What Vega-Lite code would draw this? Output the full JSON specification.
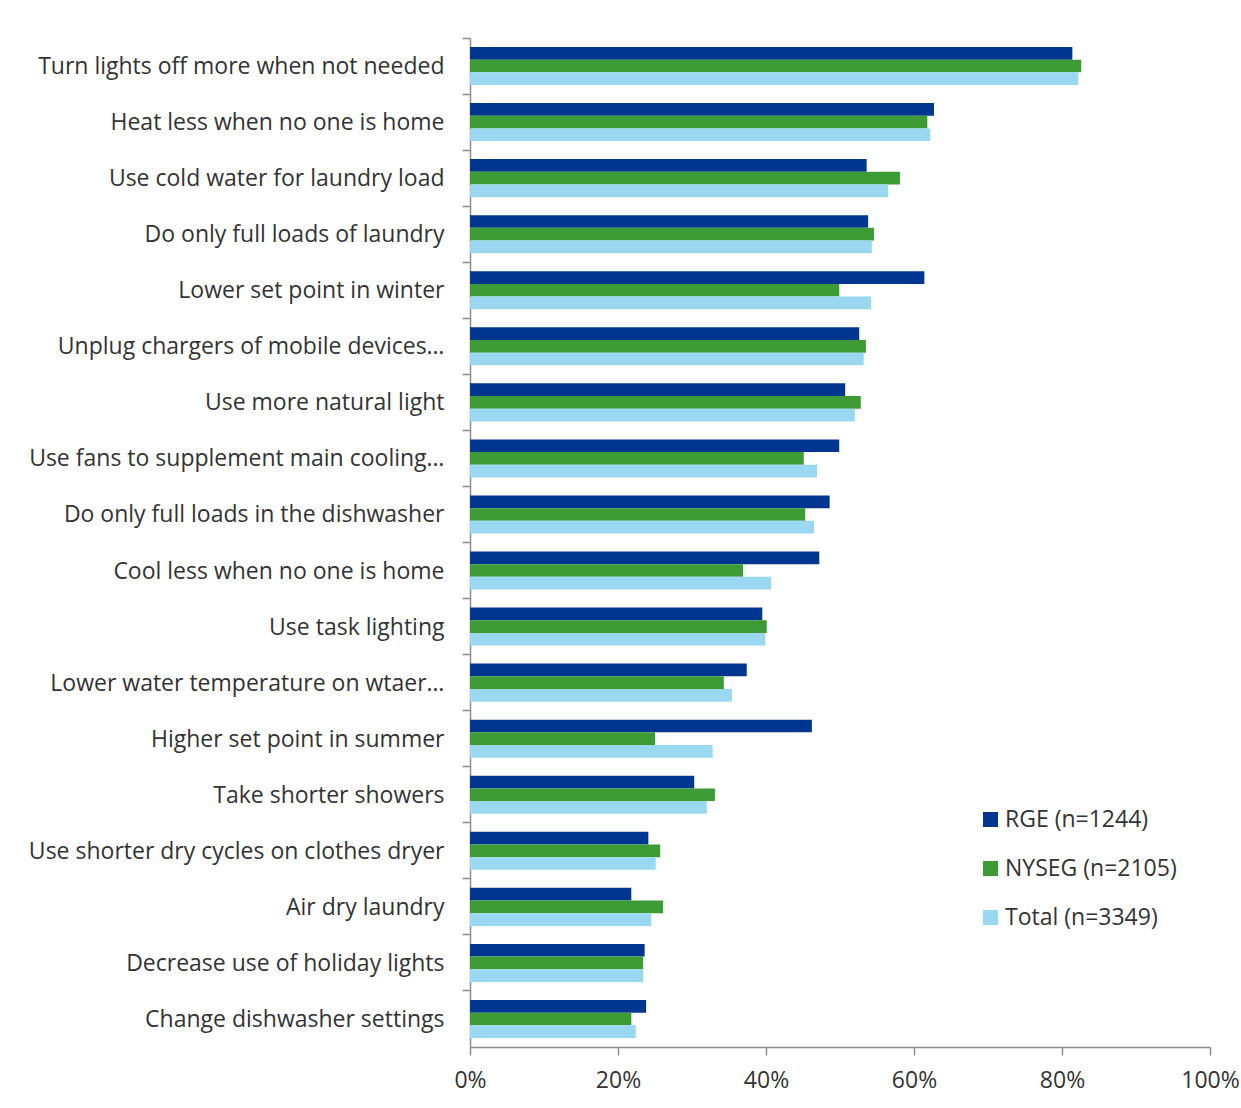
{
  "$schema": "https://vega.github.io/schema/vega-lite/v6.json",
  "autosize": "none",
  "width": 740,
  "height": 1009,
  "padding": {"left": 470, "top": 38, "right": 31, "bottom": 61},
  "background": "white",
  "config": {
    "view": {"stroke": null},
    "font": "Open Sans",
    "axis": {"domainColor": "#8c8c8c", "tickColor": "#8c8c8c", "labelColor": "#333333", "labelFont": "Open Sans", "labelFontSize": 23, "grid": false, "title": null}
  },
  "data": {
    "values": [
      {"action": "Turn lights off more when not needed", "series": "RGE (n=1244)", "value": 81.4},
      {"action": "Turn lights off more when not needed", "series": "NYSEG (n=2105)", "value": 82.6},
      {"action": "Turn lights off more when not needed", "series": "Total (n=3349)", "value": 82.2},
      {"action": "Heat less when no one is home", "series": "RGE (n=1244)", "value": 62.7},
      {"action": "Heat less when no one is home", "series": "NYSEG (n=2105)", "value": 61.8},
      {"action": "Heat less when no one is home", "series": "Total (n=3349)", "value": 62.2},
      {"action": "Use cold water for laundry load", "series": "RGE (n=1244)", "value": 53.6},
      {"action": "Use cold water for laundry load", "series": "NYSEG (n=2105)", "value": 58.1},
      {"action": "Use cold water for laundry load", "series": "Total (n=3349)", "value": 56.5},
      {"action": "Do only full loads of laundry", "series": "RGE (n=1244)", "value": 53.8},
      {"action": "Do only full loads of laundry", "series": "NYSEG (n=2105)", "value": 54.6},
      {"action": "Do only full loads of laundry", "series": "Total (n=3349)", "value": 54.3},
      {"action": "Lower set point in winter", "series": "RGE (n=1244)", "value": 61.4},
      {"action": "Lower set point in winter", "series": "NYSEG (n=2105)", "value": 49.9},
      {"action": "Lower set point in winter", "series": "Total (n=3349)", "value": 54.2},
      {"action": "Unplug chargers of mobile devices…", "series": "RGE (n=1244)", "value": 52.6},
      {"action": "Unplug chargers of mobile devices…", "series": "NYSEG (n=2105)", "value": 53.5},
      {"action": "Unplug chargers of mobile devices…", "series": "Total (n=3349)", "value": 53.2},
      {"action": "Use more natural light", "series": "RGE (n=1244)", "value": 50.7},
      {"action": "Use more natural light", "series": "NYSEG (n=2105)", "value": 52.8},
      {"action": "Use more natural light", "series": "Total (n=3349)", "value": 52.0},
      {"action": "Use fans to supplement main cooling…", "series": "RGE (n=1244)", "value": 49.9},
      {"action": "Use fans to supplement main cooling…", "series": "NYSEG (n=2105)", "value": 45.1},
      {"action": "Use fans to supplement main cooling…", "series": "Total (n=3349)", "value": 46.9},
      {"action": "Do only full loads in the dishwasher", "series": "RGE (n=1244)", "value": 48.6},
      {"action": "Do only full loads in the dishwasher", "series": "NYSEG (n=2105)", "value": 45.3},
      {"action": "Do only full loads in the dishwasher", "series": "Total (n=3349)", "value": 46.5},
      {"action": "Cool less when no one is home", "series": "RGE (n=1244)", "value": 47.2},
      {"action": "Cool less when no one is home", "series": "NYSEG (n=2105)", "value": 36.9},
      {"action": "Cool less when no one is home", "series": "Total (n=3349)", "value": 40.7},
      {"action": "Use task lighting", "series": "RGE (n=1244)", "value": 39.5},
      {"action": "Use task lighting", "series": "NYSEG (n=2105)", "value": 40.1},
      {"action": "Use task lighting", "series": "Total (n=3349)", "value": 39.9},
      {"action": "Lower water temperature on wtaer…", "series": "RGE (n=1244)", "value": 37.4},
      {"action": "Lower water temperature on wtaer…", "series": "NYSEG (n=2105)", "value": 34.3},
      {"action": "Lower water temperature on wtaer…", "series": "Total (n=3349)", "value": 35.4},
      {"action": "Higher set point in summer", "series": "RGE (n=1244)", "value": 46.2},
      {"action": "Higher set point in summer", "series": "NYSEG (n=2105)", "value": 25.0},
      {"action": "Higher set point in summer", "series": "Total (n=3349)", "value": 32.8},
      {"action": "Take shorter showers", "series": "RGE (n=1244)", "value": 30.3},
      {"action": "Take shorter showers", "series": "NYSEG (n=2105)", "value": 33.1},
      {"action": "Take shorter showers", "series": "Total (n=3349)", "value": 32.0},
      {"action": "Use shorter dry cycles on clothes dryer", "series": "RGE (n=1244)", "value": 24.1},
      {"action": "Use shorter dry cycles on clothes dryer", "series": "NYSEG (n=2105)", "value": 25.7},
      {"action": "Use shorter dry cycles on clothes dryer", "series": "Total (n=3349)", "value": 25.1},
      {"action": "Air dry laundry", "series": "RGE (n=1244)", "value": 21.8},
      {"action": "Air dry laundry", "series": "NYSEG (n=2105)", "value": 26.1},
      {"action": "Air dry laundry", "series": "Total (n=3349)", "value": 24.5},
      {"action": "Decrease use of holiday lights", "series": "RGE (n=1244)", "value": 23.6},
      {"action": "Decrease use of holiday lights", "series": "NYSEG (n=2105)", "value": 23.4},
      {"action": "Decrease use of holiday lights", "series": "Total (n=3349)", "value": 23.4},
      {"action": "Change dishwasher settings", "series": "RGE (n=1244)", "value": 23.8},
      {"action": "Change dishwasher settings", "series": "NYSEG (n=2105)", "value": 21.8},
      {"action": "Change dishwasher settings", "series": "Total (n=3349)", "value": 22.4}
    ]
  },
  "mark": {"type": "bar"},
  "encoding": {
    "y": {
      "field": "action",
      "type": "nominal",
      "sort": null,
      "scale": {"paddingInner": 0, "paddingOuter": 0},
      "axis": {"bandPosition": 0, "tickSize": 8, "labelPadding": 18, "domainWidth": 1.5, "tickWidth": 1.5, "labelLimit": 460, "labelOffset": 1}
    },
    "yOffset": {
      "field": "series",
      "type": "nominal",
      "sort": ["RGE (n=1244)", "NYSEG (n=2105)", "Total (n=3349)"],
      "scale": {"paddingInner": 0, "paddingOuter": 0.71}
    },
    "x": {
      "field": "value",
      "type": "quantitative",
      "scale": {"domain": [0, 100], "nice": false},
      "axis": {"values": [0, 20, 40, 60, 80, 100], "labelExpr": "datum.value + '%'", "labelFlush": false, "tickSize": 8, "labelPadding": 14, "domainWidth": 1.5, "tickWidth": 1.5}
    },
    "color": {
      "field": "series",
      "type": "nominal",
      "sort": ["RGE (n=1244)", "NYSEG (n=2105)", "Total (n=3349)"],
      "scale": {"range": ["#00368f", "#3d9b35", "#9ad7f0"]},
      "legend": {
        "title": null,
        "orient": "none",
        "legendX": 509,
        "legendY": 770,
        "symbolType": "square",
        "symbolSize": 225,
        "symbolStrokeWidth": 0,
        "labelFontSize": 23,
        "labelColor": "#333333",
        "labelFont": "Open Sans",
        "labelLimit": 300,
        "rowPadding": 25,
        "labelOffset": 3
      }
    }
  }
}
